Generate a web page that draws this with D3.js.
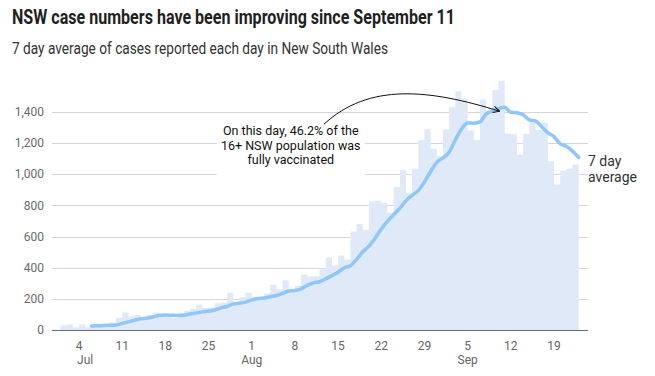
<!DOCTYPE html>
<html>
<head>
<meta charset="utf-8">
<script src="https://cdn.jsdelivr.net/npm/d3@7"></script>
<style>
  body { margin: 0; background: #fff; }
  text { font-family: Roboto, "Open Sans", sans-serif; }
</style>
</head>
<body>
<svg></svg>
<script>
const width = 655;
const height = 376;

// daily cases reported, 2 Jul to 23 Sep 2021
const firstDay = new Date(2021, 6, 2);
const dailyCases = [
  31, 35, 16, 35, 18, 27, 38, 44, 50, 77, 112, 89, 97, 65, 97, 111, 105, 98, 78, 110,
  124, 136, 163, 141, 145, 172, 177, 239, 170, 210,
  239, 207, 199, 233, 291, 262, 319, 262, 283, 356, 344, 345, 390, 466, 415, 478, 452,
  633, 681, 644, 825, 830, 818, 753, 919, 1029, 882, 1035, 1218, 1290, 1164,
  1116, 1288, 1431, 1533, 1485, 1281, 1220, 1480, 1405, 1542, 1599, 1262, 1257, 1127,
  1259, 1351, 1284, 1331, 1083, 935, 1022, 1035, 1063
];

// 7 day average, 6 Jul to 23 Sep 2021
const avgStart = new Date(2021, 6, 6);
const sevenDayAvg = [
  25.9, 26.6, 28.6, 30.4, 32.6, 41.3, 52.3, 62.4, 72.4, 76.3, 83.9, 92.6, 96.6, 94.6,
  93.0, 94.9, 103.3, 108.9, 116.3, 121.4, 128.1, 141.6, 151.1, 167.6, 172.4, 179.1,
  193.1, 202.0, 205.9, 213.9, 221.3, 234.4, 250.0, 253.3, 264.1, 286.6, 302.4, 310.1,
  328.4, 349.4, 371.3, 399.1, 412.9, 454.1, 502.1, 538.4, 589.7, 649.0, 697.6, 740.6,
  781.4, 831.1, 865.1, 895.1, 950.6, 1018.0, 1076.7, 1104.9, 1141.9, 1220.3, 1291.4,
  1329.6, 1328.3, 1336.3, 1388.3, 1405.0, 1420.9, 1430.3, 1398.4, 1395.0, 1381.7,
  1350.1, 1342.4, 1305.6, 1267.3, 1241.7, 1195.7, 1180.7, 1148.7, 1107.6
];

const yTicks = [0, 200, 400, 600, 800, 1000, 1200, 1400];
const monthLabels = [
  { label: 'Jul', date: new Date(2021, 6, 5) },
  { label: 'Aug', date: new Date(2021, 7, 1) },
  { label: 'Sep', date: new Date(2021, 8, 5) }
];
const annotationLines = ['On this day, 46.2% of the', '16+ NSW population was', 'fully vaccinated'];
const peakDate = new Date(2021, 8, 11);

const cases = dailyCases.map((v, i) => ({ date: d3.timeDay.offset(firstDay, i), value: v }));
const avg = sevenDayAvg.map((v, i) => ({ date: d3.timeDay.offset(avgStart, i), value: v }));

const margin = { top: 112, bottom: 46, left: 52, right: 67 };
const innerLeft = margin.left;
const innerRight = width - margin.right;

const svg = d3.select('svg')
  .attr('width', width)
  .attr('height', height);

const x = d3.scaleTime()
  .domain([new Date(2021, 6, 1), new Date(2021, 8, 23)])
  .range([60.5, 578.7]);

const y = d3.scaleLinear()
  .domain([0, 1400])
  .range([height - margin.bottom, margin.top]);

// titles
svg.append('text')
  .attr('x', 12).attr('y', 24)
  .attr('font-size', 20).attr('font-weight', 700)
  .attr('fill', '#1f1f1f')
  .attr('textLength', 443).attr('lengthAdjust', 'spacingAndGlyphs')
  .text('NSW case numbers have been improving since September 11');

svg.append('text')
  .attr('x', 12).attr('y', 54)
  .attr('font-size', 17)
  .attr('fill', '#333')
  .attr('textLength', 376).attr('lengthAdjust', 'spacingAndGlyphs')
  .text('7 day average of cases reported each day in New South Wales');

// grid
svg.append('g').selectAll('line').data(yTicks.filter(d => d > 0))
  .enter().append('line')
    .attr('x1', innerLeft).attr('x2', innerRight)
    .attr('y1', d => Math.round(y(d)) + 0.5).attr('y2', d => Math.round(y(d)) + 0.5)
    .attr('stroke', '#d3d7de').attr('stroke-width', 1);

svg.append('g').selectAll('text').data(yTicks)
  .enter().append('text')
    .attr('x', 44).attr('y', d => y(d))
    .attr('dy', '0.35em')
    .attr('text-anchor', 'end')
    .attr('font-size', 12)
    .attr('fill', '#6a6a6a')
    .text(d => d3.format(',')(d));

// daily bars drawn as one stepped area
const stepData = [{ date: d3.timeDay.offset(firstDay, -1), value: dailyCases[0] }].concat(cases);
const areaGen = d3.area()
  .x(d => x(d.date))
  .y0(y(0))
  .y1(d => y(d.value))
  .curve(d3.curveStepBefore);

svg.append('path')
  .datum(stepData)
  .attr('d', areaGen)
  .attr('fill', '#dfe9f8');

// annotation text with white backing
const noteX = x(new Date(2021, 7, 7)) + 2;
const noteG = svg.append('g');
noteG.append('rect')
  .attr('x', noteX - 74).attr('y', y(1270))
  .attr('width', 148).attr('height', 46)
  .attr('fill', '#fff');
noteG.selectAll('text').data(annotationLines)
  .enter().append('text')
    .attr('x', noteX)
    .attr('y', (d, i) => y(1250) + i * 14.5)
    .attr('text-anchor', 'middle')
    .attr('font-size', 12.5)
    .attr('fill', '#111')
    .text(d => d);

// 7 day average line
const lineGen = d3.line()
  .x(d => x(d.date))
  .y(d => y(d.value))
  .curve(d3.curveMonotoneX);

svg.append('path')
  .datum(avg)
  .attr('d', lineGen)
  .attr('fill', 'none')
  .attr('stroke', '#8fc6fb')
  .attr('stroke-width', 3.5)
  .attr('stroke-linejoin', 'round')
  .attr('stroke-linecap', 'round');

// curved arrow to the peak
svg.append('defs').append('marker')
  .attr('id', 'arrow')
  .attr('viewBox', '0 0 10 10')
  .attr('refX', 9).attr('refY', 5)
  .attr('markerWidth', 8).attr('markerHeight', 8)
  .attr('markerUnits', 'userSpaceOnUse')
  .attr('orient', 'auto')
  .append('path')
    .attr('d', 'M1,1 L9,5 L1,9')
    .attr('fill', 'none')
    .attr('stroke', '#111')
    .attr('stroke-width', 1.2);

const peakVal = avg.find(d => +d.date === +peakDate).value;
const ax0 = noteX + 33, ay0 = y(1320);
const ax1 = x(peakDate) - 5, ay1 = y(peakVal) + 4;
const arrowPath = d3.path();
arrowPath.moveTo(ax0, ay0);
arrowPath.bezierCurveTo(ax0 + 45, ay0 - 42, ax1 - 70, ay1 - 22, ax1, ay1);
svg.append('path')
  .attr('d', arrowPath.toString())
  .attr('fill', 'none')
  .attr('stroke', '#111')
  .attr('stroke-width', 1)
  .attr('marker-end', 'url(#arrow)');

// x axis
svg.append('line')
  .attr('x1', innerLeft).attr('x2', innerRight)
  .attr('y1', y(0) + 0.5).attr('y2', y(0) + 0.5)
  .attr('stroke', '#5d6b80').attr('stroke-width', 1.2);

const xTicks = d3.timeDay.range(new Date(2021, 6, 4), new Date(2021, 8, 24), 7);
svg.append('g').selectAll('text').data(xTicks)
  .enter().append('text')
    .attr('x', d => x(d))
    .attr('y', 350)
    .attr('text-anchor', 'middle')
    .attr('font-size', 12)
    .attr('fill', '#666')
    .text(d => d.getDate());

svg.append('g').selectAll('text').data(monthLabels)
  .enter().append('text')
    .attr('x', d => x(d.date))
    .attr('y', 364)
    .attr('text-anchor', 'middle')
    .attr('font-size', 12)
    .attr('fill', '#666')
    .text(d => d.label);

// line label
const last = avg[avg.length - 1];
svg.append('g').selectAll('text').data(['7 day', 'average'])
  .enter().append('text')
    .attr('x', innerRight)
    .attr('y', (d, i) => y(last.value) + 8 + i * 16)
    .attr('font-size', 14)
    .attr('fill', '#333')
    .text(d => d);
</script>
</body>
</html>
